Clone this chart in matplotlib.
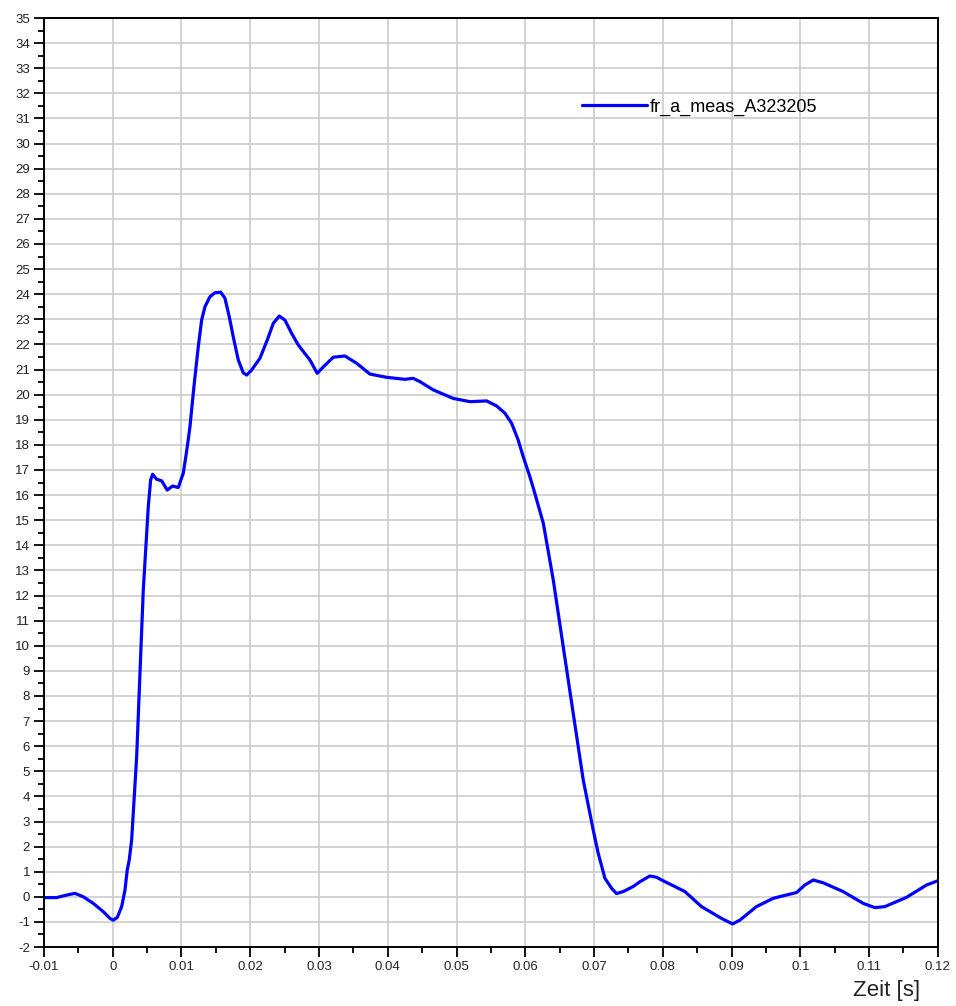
"""Recreate the fr_a_meas_A323205 time trace."""

import matplotlib

matplotlib.use("Agg")

import matplotlib.pyplot as plt
from matplotlib.ticker import FuncFormatter, MultipleLocator

plt.rcParams["font.family"] = ["Liberation Sans", "DejaVu Sans"]

# signal (time in s, value)
time_s = [
    -0.0100, -0.00815, -0.0067, -0.00549, -0.00428, -0.00283, -0.00138, -0.0004,
    0.00008, 0.00066, 0.0013, 0.00178, 0.00211, 0.0024, 0.00275, 0.00348,
    0.00396, 0.00444, 0.00517, 0.00551, 0.00580, 0.00639, 0.00711, 0.00793,
    0.00871, 0.00953, 0.01026, 0.0107, 0.01098, 0.01123, 0.01181, 0.01244,
    0.01293, 0.01341, 0.01414, 0.01487, 0.0157, 0.01632, 0.01695, 0.01753,
    0.01826, 0.01898, 0.01948, 0.0202, 0.02141, 0.02248, 0.02335, 0.02422,
    0.02504, 0.02602, 0.02698, 0.02868, 0.02974, 0.03064, 0.03207, 0.03377,
    0.03547, 0.0374, 0.03983, 0.04249, 0.0437, 0.04467, 0.04661, 0.04952,
    0.05195, 0.05438, 0.05583, 0.05704, 0.05801, 0.05897, 0.0597, 0.06067,
    0.06125, 0.06262, 0.06407, 0.06552, 0.06697, 0.06843, 0.06988, 0.0706,
    0.07158, 0.07255, 0.07327, 0.07424, 0.07569, 0.07667, 0.07811, 0.07909,
    0.08005, 0.08321, 0.08563, 0.08854, 0.09014, 0.0912, 0.09362, 0.09605,
    0.0975, 0.09945, 0.10066, 0.10187, 0.10332, 0.10623, 0.10914, 0.11084,
    0.11229, 0.11545, 0.11835, 0.1200,
]
fr_a_meas = [
    -0.03, -0.03, 0.07, 0.14, 0.00, -0.26, -0.59, -0.86,
    -0.93, -0.82, -0.39, 0.27, 1.07, 1.47, 2.26, 5.58,
    8.90, 12.2, 15.54, 16.6, 16.83, 16.63, 16.57, 16.20,
    16.36, 16.30, 16.87, 17.66, 18.20, 18.72, 20.32, 21.91,
    22.97, 23.50, 23.90, 24.06, 24.08, 23.84, 23.10, 22.30,
    21.38, 20.87, 20.78, 20.98, 21.45, 22.18, 22.84, 23.13,
    22.97, 22.44, 21.98, 21.38, 20.85, 21.11, 21.49, 21.54,
    21.25, 20.82, 20.69, 20.61, 20.65, 20.52, 20.19, 19.85,
    19.72, 19.75, 19.55, 19.26, 18.86, 18.19, 17.53, 16.73,
    16.20, 14.88, 12.62, 9.96, 7.31, 4.65, 2.66, 1.74,
    0.74, 0.34, 0.13, 0.21, 0.41, 0.60, 0.83, 0.78,
    0.64, 0.21, -0.39, -0.86, -1.08, -0.93, -0.39, -0.06,
    0.04, 0.17, 0.47, 0.67, 0.56, 0.21, -0.26, -0.43,
    -0.39, -0.02, 0.47, 0.64,
]
series_label = "fr_a_meas_A323205"
x_label = "Zeit [s]"


def main() -> None:
    fig = plt.figure(figsize=(9.56, 10.06), dpi=100)
    ax = fig.add_axes([0.046, 0.0586, 0.935, 0.9235])

    ax.plot(time_s, fr_a_meas, color="#0000ff", lw=2.3, label=series_label,
            solid_joinstyle="round", solid_capstyle="round")

    ax.set_xlim(-0.01, 0.12)
    ax.set_ylim(-2, 35)
    ax.xaxis.set_major_locator(MultipleLocator(0.01))
    ax.xaxis.set_minor_locator(MultipleLocator(0.005))
    ax.yaxis.set_major_locator(MultipleLocator(1))
    ax.yaxis.set_minor_locator(MultipleLocator(0.5))
    ax.xaxis.set_major_formatter(FuncFormatter(lambda v, _: f"{round(v, 3):g}"))
    ax.yaxis.set_major_formatter(FuncFormatter(lambda v, _: f"{int(round(v))}"))

    ax.grid(True, which="major", color="#c8c8c8", lw=1.1)
    ax.set_axisbelow(True)
    for spine in ax.spines.values():
        spine.set_linewidth(1.4)
        spine.set_color("black")

    ax.tick_params(which="major", direction="out", length=7, width=1.3,
                   labelsize=9.5, colors="black", labelcolor="#222222")
    ax.tick_params(which="minor", direction="out", length=4.5, width=1.3, colors="black")
    ax.tick_params(axis="y", pad=3)
    ax.tick_params(axis="x", pad=3)

    fig.text(0.962, 0.005, x_label, ha="right", va="bottom", fontsize=16, color="#222222")

    ax.legend(loc="center left", bbox_to_anchor=(0.594, 0.904), frameon=False,
              fontsize=13, handlelength=3.6, handletextpad=0.15, borderaxespad=0)

    fig.savefig("out.png", dpi=100)
    plt.close(fig)


if __name__ == "__main__":
    main()
